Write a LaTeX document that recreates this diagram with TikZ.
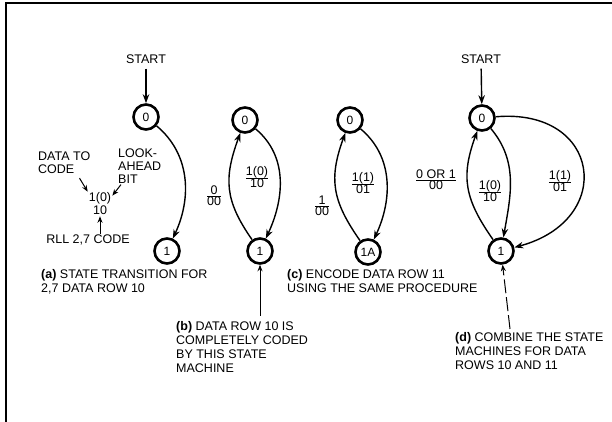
\documentclass[tikz,border=0pt]{standalone}
\usepackage{amsmath}
\usepackage{fontspec}
\setmainfont{Liberation Sans}
\usetikzlibrary{calc,arrows.meta}
\tikzset{
	state/.style={circle,draw,line width=2.6pt,minimum size=25pt,inner sep=0pt,font=\fontsize{12}{12}\selectfont},
	edge/.style={line width=1.4pt,-{Stealth[length=9pt,width=6.5pt]}},
	ptr/.style={line width=1pt,-{Stealth[length=6.5pt,width=5pt]}},
	lbl/.style={font=\fontsize{12.5}{13}\selectfont,align=center,inner sep=1pt},
	capt/.style={font=\fontsize{12.5}{14}\selectfont,align=left,anchor=north west,inner sep=0pt}
}
\newcommand{\frl}[2]{$\genfrac{}{}{0.4pt}{1}{\mbox{#1}}{\mbox{#2}}$}

\begin{document}
\begin{tikzpicture}[x=1pt,y=1pt]
			\useasboundingbox (0,0) rectangle (612,422);
			\draw[line width=1.1pt] (6,0)--(6,419)--(612,419);
			
			\node[state] (a0) at (146,305) {0};
			\node[state] (a1) at (167,171) {1};
			\node[lbl] (startA) at (146,363) {START};
			\draw[edge,shorten <=4pt] (startA)--(a0);
			\draw[edge] (a0) to[out=-40,in=65] (a1);
			
			\node[lbl] (codeA) at (100,218) {1(0)\\10};
			\node[lbl,align=left,anchor=west] (dataA) at (37,259) {DATA TO\\CODE};
			\node[lbl,align=left,anchor=west] (bitA) at (117,256) {LOOK-\\AHEAD\\BIT};
			\node[lbl] (rllA) at (88,182) {RLL 2,7 CODE};
			\draw[ptr] ($(dataA.south east)+(-12,-3)$)--(codeA.north west);
			\draw[ptr] ($(bitA.south west)+(4,0)$)--($(codeA.north east)+(0,-4)$);
			\draw[ptr] (rllA.north -| codeA)--(codeA.south);
			
			\node[state] (b0) at (245,302) {0};
			\node[state] (b1) at (260,171) {1};
			\draw[edge] (b0) to[out=-40,in=65] (b1);
			\draw[edge] (b1) to[out=125,in=-110,looseness=1.15] (b0);
			\node[lbl] (codeB1) at (257,245) {\frl{1(0)}{10}};
			\node[lbl] (codeB0) at (214,226) {\frl{0}{00}};
			
			\node[state] (c0) at (350,302) {0};
			\node[state] (c1) at (368,170) {1A};
			\draw[edge] (c0) to[out=-40,in=65] (c1);
			\draw[edge] (c1) to[out=125,in=-110,looseness=1.15] (c0);
			\node[lbl] (codeC1) at (363,239) {\frl{1(1)}{01}};
			\node[lbl] (codeC0) at (322,216) {\frl{1}{00}};
			
			\node[state] (d0) at (482,304) {0};
			\node[state] (d1) at (501,171) {1};
			\node[lbl] (startD) at (481,363) {START};
			\draw[edge,shorten <=4pt] (startD)--(d0);
			\draw[edge] (d0) to[out=-50,in=80] (d1);
			\draw[edge] (d1) to[out=125,in=-110,looseness=1.15] (d0);
			\draw[edge] (d0) to[out=5,in=15,looseness=2.05] (d1);
			\node[lbl] (codeD0) at (436,242) {\frl{0 OR 1}{00}};
			\node[lbl] (codeD1) at (490,231) {\frl{1(0)}{10}};
			\node[lbl] (codeD2) at (560,241) {\frl{1(1)}{01}};
			
			\node[capt] (capA) at (41,153) {\textbf{(a)} STATE TRANSITION FOR\\2,7 DATA ROW 10};
			\node[capt] (capB) at (176,101) {\textbf{(b)} DATA ROW 10 IS\\COMPLETELY CODED\\BY THIS STATE\\MACHINE};
			\node[capt] (capC) at (287,153) {\textbf{(c)} ENCODE DATA ROW 11\\USING THE SAME PROCEDURE};
			\node[capt] (capD) at (455,90) {\textbf{(d)} COMBINE THE STATE\\MACHINES FOR DATA\\ROWS 10 AND 11};
			
			\coordinate (tailB) at (260,106);
			\coordinate (tailD) at (510,93);
			\draw[ptr] (tailB)--(b1);
			\draw[ptr,dash pattern=on 14pt off 4pt] (tailD)--(d1);
		\end{tikzpicture}
\end{document}
